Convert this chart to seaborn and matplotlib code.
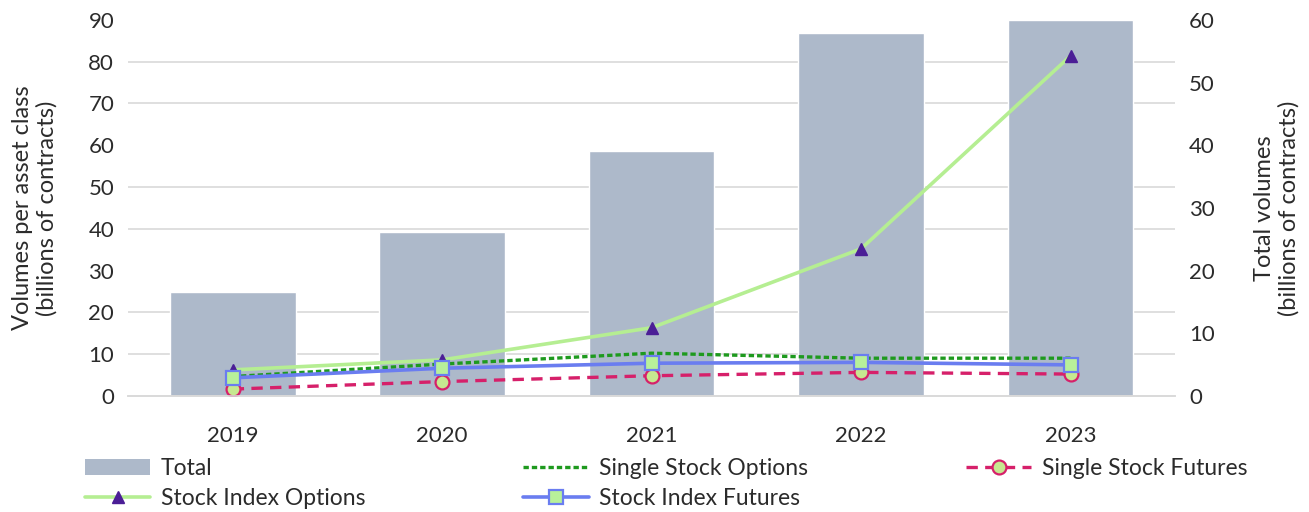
import numpy as np
import matplotlib
matplotlib.use("Agg")
import matplotlib.pyplot as plt
import seaborn as sns
from matplotlib.patches import Patch

years = ["2019", "2020", "2021", "2022", "2023"]
total = [16.6, 26.2, 39.1, 57.9, 60.0]
stock_index_options = [6.2, 8.6, 16.3, 35.2, 81.4]
single_stock_options = [4.6, 7.6, 10.2, 9.0, 9.0]
stock_index_futures = [4.3, 6.6, 7.8, 8.0, 7.4]
single_stock_futures = [1.6, 3.4, 4.8, 5.6, 5.2]

sns.set_theme(style="white")
plt.rcParams["font.family"] = ["Lato", "DejaVu Sans"]
txt = "#2b2b2b"
fs = 16
fs_lab = 17
fs_leg = 16.5

fig = plt.figure(figsize=(13.09, 5.12), dpi=100)
ax_bar = fig.add_axes([0.0978, 0.227, 0.8, 0.734])
ax = ax_bar.twinx()

# bars (right axis, drawn below the lines)
sns.barplot(x=years, y=total, ax=ax_bar, color="#ADB9CA", saturation=1, width=0.6, zorder=2)
ax_bar.set_ylim(0, 60)
ax_bar.yaxis.tick_right()
ax_bar.yaxis.set_label_position("right")
ax_bar.set_yticks(np.arange(0, 61, 10))
ax_bar.set_yticks(np.linspace(0, 60, 10), minor=True)
ax_bar.grid(axis="y", which="minor", color="#D9D9D9", linewidth=1.2, zorder=0)
ax_bar.grid(axis="y", which="major", visible=False)
ax_bar.set_axisbelow(True)
ax_bar.set_ylabel("Total volumes\n(billions of contracts)", fontsize=fs_lab, color=txt, labelpad=28)

# lines (left axis)
sns.pointplot(x=years, y=stock_index_options, ax=ax, errorbar=None, color="#B5EE92",
              markers="^", linestyles="-", linewidth=2.6, markersize=9,
              markerfacecolor="#4B1E96", markeredgecolor="#4B1E96", markeredgewidth=1)
h_sio = ax.lines[-1]
sns.pointplot(x=years, y=single_stock_options, ax=ax, errorbar=None, color="#1E9A1E",
              markers="", linestyles=(0, (1.6, 0.9)), linewidth=2.4)
h_sso = ax.lines[-1]
sns.pointplot(x=years, y=single_stock_futures, ax=ax, errorbar=None, color="#D6206A",
              markers="o", linestyles=(0, (3.4, 2.2)), linewidth=2.4, markersize=10,
              markerfacecolor="#C6E890", markeredgecolor="#D6206A", markeredgewidth=1.6)
h_ssf = ax.lines[-1]
sns.pointplot(x=years, y=stock_index_futures, ax=ax, errorbar=None, color="#6A7DF0",
              markers="s", linestyles="-", linewidth=2.6, markersize=10,
              markerfacecolor="#B8F09A", markeredgecolor="#6A7DF0", markeredgewidth=1.6)
h_sif = ax.lines[-1]

ax.set_ylim(0, 90)
ax.yaxis.tick_left()
ax.yaxis.set_label_position("left")
ax.set_yticks(np.arange(0, 91, 10))
ax.set_ylabel("Volumes per asset class\n(billions of contracts)", fontsize=fs_lab, color=txt, labelpad=22)
ax.grid(False)

for a in (ax, ax_bar):
    for s in ("top", "left", "right"):
        a.spines[s].set_visible(False)
    a.spines["bottom"].set_color("#D9D9D9")
    a.spines["bottom"].set_linewidth(1.2)
    a.tick_params(axis="both", which="both", length=0, labelsize=fs, colors=txt, pad=10)
    a.tick_params(axis="x", pad=22)
    a.set_xlabel("")

h_total = Patch(facecolor="#ADB9CA", edgecolor="none")
handles = [h_total, h_sio, h_sso, h_sif, h_ssf]
labels = ["Total", "Stock Index Options", "Single Stock Options", "Stock Index Futures", "Single Stock Futures"]
leg = fig.legend(handles, labels, ncol=3, loc="upper left", bbox_to_anchor=(0.065, 0.105),
                 frameon=False, fontsize=fs_leg, handlelength=2.85, handletextpad=0.45,
                 columnspacing=6.9, labelspacing=0.38, borderpad=0, borderaxespad=0)
for t in leg.get_texts():
    t.set_color(txt)

fig.savefig("out.png", dpi=100)
